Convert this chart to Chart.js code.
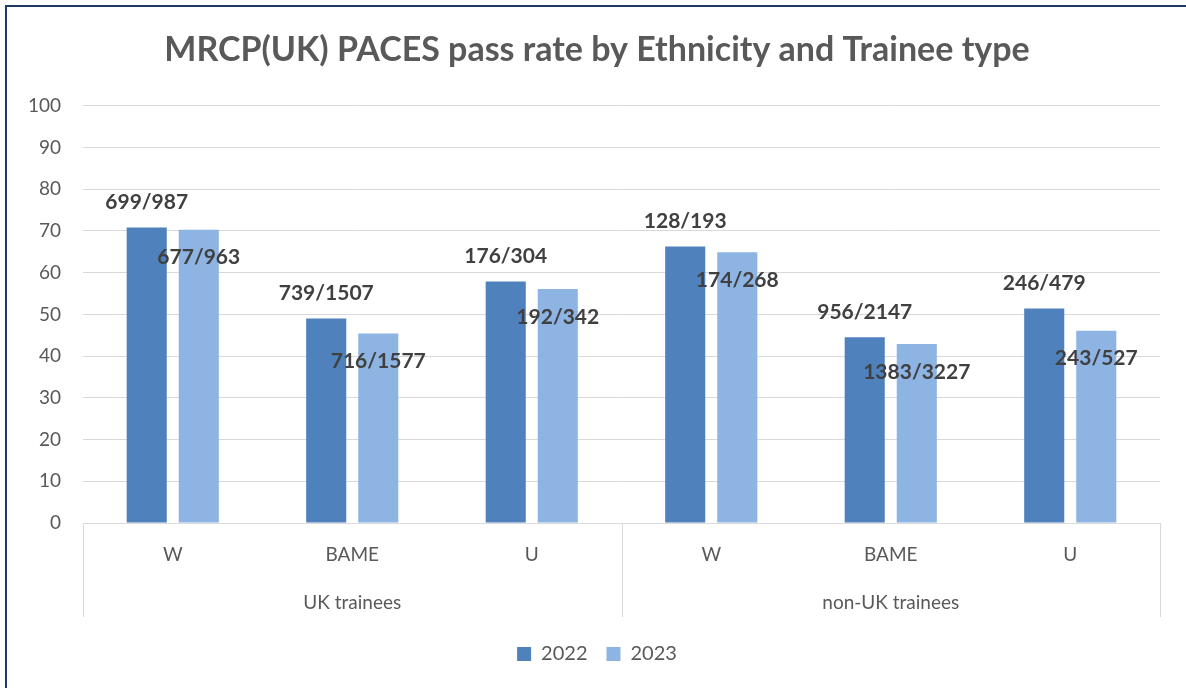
<!DOCTYPE html>
<html>
<head>
<meta charset="utf-8">
<script src="https://cdn.jsdelivr.net/npm/chart.js@4.4.0/dist/chart.umd.min.js"></script>
<style>
  html, body { margin: 0; padding: 0; background: #ffffff; overflow: hidden; }
  #wrap { position: relative; width: 1186px; height: 688px; }
  #frame { position: absolute; left: 5px; top: 5px; width: 1300px; height: 800px;
           border-left: 2px solid #1f3a5f; border-top: 2px solid #1f3a5f; pointer-events: none; }
</style>
</head>
<body>
<div id="wrap">
  <canvas id="c" width="1186" height="688"></canvas>
  <div id="frame"></div>
</div>
<script>
// ---- Data ----
const categories = ['W', 'BAME', 'U', 'W', 'BAME', 'U'];
const groups = ['UK trainees', 'non-UK trainees'];
const seriesNames = ['2022', '2023'];
const values2022 = [70.8, 49.0, 57.9, 66.3, 44.5, 51.4];
const values2023 = [70.3, 45.4, 56.1, 64.9, 42.9, 46.1];
const labels2022 = ['699/987', '739/1507', '176/304', '128/193', '956/2147', '246/479'];
const labels2023 = ['677/963', '716/1577', '192/342', '174/268', '1383/3227', '243/527'];
const yTicks = [0, 10, 20, 30, 40, 50, 60, 70, 80, 90, 100];

const FONT = 'Lato, "Open Sans", "Liberation Sans", sans-serif';
const GRID = '#d9d9d9';
const TXT = '#595959';

const dataLabelPlugin = {
  id: 'dataLabels',
  afterDatasetsDraw(chart) {
    const ctx = chart.ctx;
    const texts = [labels2022, labels2023];
    ctx.save();
    ctx.font = 'bold 21px ' + FONT;
    ctx.fillStyle = '#404040';
    ctx.textAlign = 'center';
    ctx.textBaseline = 'middle';
    chart.data.datasets.forEach((ds, di) => {
      const meta = chart.getDatasetMeta(di);
      meta.data.forEach((bar, i) => {
        const y = di === 0 ? bar.y - 25 : bar.y + 28;
        ctx.fillText(texts[di][i], bar.x, y);
      });
    });
    ctx.restore();
  }
};

const groupAxisPlugin = {
  id: 'groupAxis',
  afterLayout(chart) {
    // give the y-axis labels room to the left of the (narrow) y box
    chart.scales.y.left = 14;
  },
  afterDraw(chart) {
    const ctx = chart.ctx;
    const x = chart.scales.x;
    const top = chart.chartArea.bottom;
    const bottom = top + 94;
    const n = categories.length;
    const per = n / groups.length;
    const step = (x.right - x.left) / n;
    ctx.save();
    ctx.strokeStyle = GRID;
    ctx.lineWidth = 1;
    for (let g = 0; g <= groups.length; g++) {
      const xx = Math.round(x.left + g * per * step) + 0.5;
      ctx.beginPath();
      ctx.moveTo(xx, top);
      ctx.lineTo(xx, bottom);
      ctx.stroke();
    }
    ctx.font = '19px ' + FONT;
    ctx.fillStyle = TXT;
    ctx.textAlign = 'center';
    ctx.textBaseline = 'middle';
    groups.forEach((g, gi) => {
      const cx = x.left + (gi + 0.5) * per * step;
      ctx.fillText(g, cx, top + 80);
    });
    ctx.restore();
  }
};

new Chart(document.getElementById('c'), {
  type: 'bar',
  data: {
    labels: categories,
    datasets: [
      { label: seriesNames[0], data: values2022, backgroundColor: '#4f81bd', borderWidth: 0,
        categoryPercentage: 0.58, barPercentage: 0.77 },
      { label: seriesNames[1], data: values2023, backgroundColor: '#8db4e2', borderWidth: 0,
        categoryPercentage: 0.58, barPercentage: 0.77 }
    ]
  },
  options: {
    responsive: false,
    animation: false,
    devicePixelRatio: 1,
    layout: { padding: { left: 34, right: 26, top: 0, bottom: 14 } },
    plugins: {
      title: {
        display: true,
        text: 'MRCP(UK) PACES pass rate by Ethnicity and Trainee type',
        color: TXT,
        font: { family: FONT, size: 34, weight: 'bold' },
        padding: { top: 30, bottom: 35 }
      },
      legend: {
        display: true,
        position: 'bottom',
        labels: {
          color: TXT,
          font: { family: FONT, size: 20 },
          boxWidth: 14, boxHeight: 14, padding: 19
        }
      },
      tooltip: { enabled: false }
    },
    scales: {
      x: {
        grid: { display: false, drawTicks: false },
        border: { display: true, color: GRID, width: 1 },
        ticks: { color: TXT, font: { family: FONT, size: 19 }, padding: 20, maxRotation: 0 },
        afterFit(scale) { scale.height = 102; }
      },
      y: {
        min: 0, max: 100,
        clip: false,
        afterBuildTicks(scale) { scale.ticks = yTicks.map(v => ({ value: v })); },
        grid: { color: GRID, lineWidth: 1, drawTicks: false },
        border: { display: false },
        ticks: { color: TXT, font: { family: FONT, size: 19 }, padding: 22 },
        afterFit(scale) { scale.width = 49; }
      }
    }
  },
  plugins: [dataLabelPlugin, groupAxisPlugin]
});
</script>
</body>
</html>
